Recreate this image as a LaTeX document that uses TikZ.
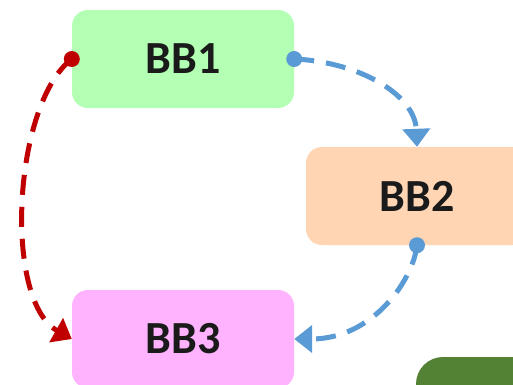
\documentclass[tikz,border=0pt]{standalone}
\usepackage{fontspec}
\setmainfont{Carlito}
\usetikzlibrary{arrows.meta}
\definecolor{boxgreen}{HTML}{B3FFB3}
\definecolor{boxpeach}{HTML}{FFD5B3}
\definecolor{boxpink}{HTML}{FFB3FF}
\definecolor{boxolive}{HTML}{548235}
\definecolor{linkblue}{HTML}{5B9BD5}
\definecolor{linkred}{HTML}{C00000}
\definecolor{ink}{HTML}{1A1A1A}
\tikzset{
  block/.style={rounded corners=16pt, minimum width=222pt, minimum height=98pt,
    inner sep=0pt, text=ink, font=\fontsize{46}{50}\selectfont\bfseries},
  link/.style={line width=5pt, dash pattern=on 20pt off 12pt,
    -{Triangle[length=18pt,width=27pt]}},
}
\newcommand{\lbl}[1]{\raisebox{-2pt}{#1}}
\begin{document}
\begin{tikzpicture}[x=1pt,y=-1pt]
  \clip (0,0) rectangle (513,384);
  \fill[white] (0,0) rectangle (513,384);

  % blocks
  \node[block, fill=boxgreen] (b1) at (183,59) {\lbl{BB1}};
  \node[block, fill=boxpeach] (b2) at (417,196) {\lbl{BB2}};
  \node[block, fill=boxpink]  (b3) at (183,339) {\lbl{BB3}};
  \node[block, fill=boxolive, rounded corners=27pt] (b4) at (527,406) {};

  % links between blocks
  \draw[link, linkred]  (b1.west) .. controls (13,104) and (3,300) .. (b3.west);
  \draw[link, linkblue] (b1.east) .. controls (360,62) and (415,95) .. (b2.north);
  \draw[link, linkblue] (b2.south) .. controls (413,280) and (373,339) .. (b3.east);

  % start dots
  \fill[linkred]  (b1.west) circle (8);
  \fill[linkblue] (b1.east) circle (8);
  \fill[linkblue] (b2.south) circle (8);
\end{tikzpicture}
\end{document}
